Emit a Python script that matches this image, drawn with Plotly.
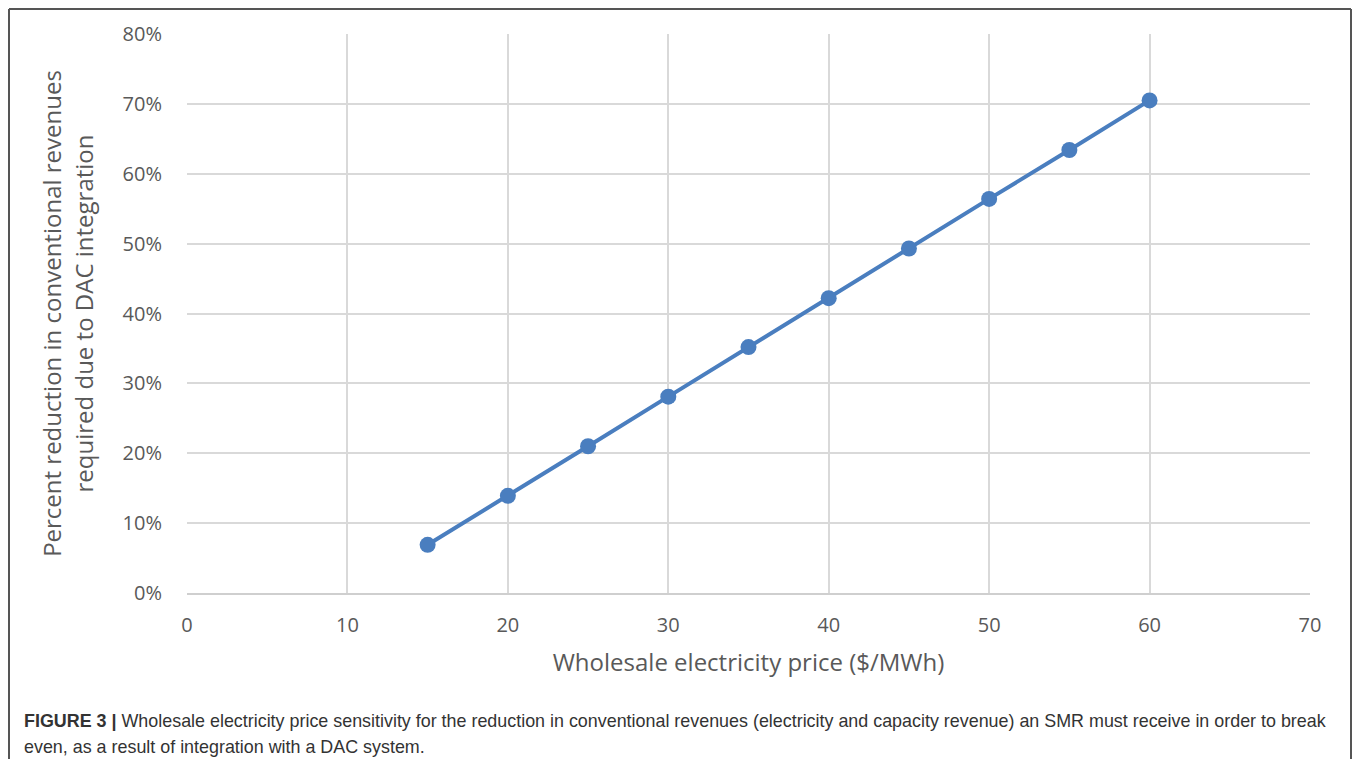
import plotly.graph_objects as go

price = [15, 20, 25, 30, 35, 40, 45, 50, 55, 60]
reduction = [0.069, 0.139, 0.210, 0.281, 0.352, 0.422, 0.493, 0.564, 0.634, 0.705]

x_ticks = [0, 10, 20, 30, 40, 50, 60, 70]
y_ticks = [0, 0.1, 0.2, 0.3, 0.4, 0.5, 0.6, 0.7, 0.8]

OFF = 8  # page body margin
W, H = 1344, 751
# plot area in page coordinates
L, R, T, B = 187 - OFF, 1310 - OFF, 34 - OFF, 593 - OFF

def px(x_page):
    return (x_page - OFF - L) / (R - L)

def py(y_page):
    return (B - (y_page - OFF)) / (B - T)

fig = go.Figure()
fig.add_trace(go.Scatter(
    x=price, y=reduction, mode="lines+markers",
    line=dict(color="#4a7ebf", width=4),
    marker=dict(color="#4a7ebf", size=16),
    showlegend=False,
))

tickfont = dict(family="Open Sans, sans-serif", size=20, color="#595959")
fig.update_xaxes(
    range=[0, 70], tickvals=x_ticks, ticktext=[str(v) for v in x_ticks],
    showgrid=True, gridcolor="#d9d9d9", gridwidth=2,
    zeroline=False, showline=True, linecolor="#cfcfcf", linewidth=2,
    ticks="outside", ticklen=13, tickcolor="rgba(0,0,0,0)",
    tickfont=tickfont,
    title=dict(text="Wholesale electricity price ($/MWh)",
               font=dict(family="Open Sans, sans-serif", size=24, color="#595959"),
               standoff=17),
)
fig.update_yaxes(
    range=[0, 0.8], tickvals=y_ticks, ticktext=[f"{int(round(v*100))}%" for v in y_ticks],
    showgrid=True, gridcolor="#d9d9d9", gridwidth=2,
    zeroline=False, showline=False,
    ticks="outside", ticklen=20, tickcolor="rgba(0,0,0,0)",
    tickfont=tickfont,
    title=dict(text="Percent reduction in conventional revenues<br>required due to DAC integration",
               font=dict(family="Open Sans, sans-serif", size=24, color="#595959"),
               standoff=22),
)

border = dict(color="#555555", width=2)
fig.add_shape(type="line", xref="paper", yref="paper",
              x0=px(9), x1=px(1351), y0=py(9), y1=py(9), line=border)
fig.add_shape(type="line", xref="paper", yref="paper",
              x0=px(9), x1=px(9), y0=py(9), y1=py(OFF + H), line=border)
fig.add_shape(type="line", xref="paper", yref="paper",
              x0=px(1351), x1=px(1351), y0=py(9), y1=py(OFF + H), line=border)

cap_font = dict(family="Liberation Sans, Arial, sans-serif", size=17.9, color="#333333")
caption1 = ("<b>FIGURE 3 |</b> Wholesale electricity price sensitivity for the reduction in conventional revenues "
            "(electricity and capacity revenue) an SMR must receive in order to break")
caption2 = "even, as a result of integration with a DAC system."
fig.add_annotation(
    text=caption1, xref="paper", yref="paper", x=px(22), y=py(721),
    xanchor="left", yanchor="middle", align="left", showarrow=False, font=cap_font,
)
fig.add_annotation(
    text=caption2, xref="paper", yref="paper", x=px(22), y=py(747),
    xanchor="left", yanchor="middle", align="left", showarrow=False, font=cap_font,
)

fig.update_layout(
    width=W, height=H,
    margin=dict(l=L, r=W - R, t=T, b=H - B),
    paper_bgcolor="white", plot_bgcolor="white",
)

fig.write_html("out.html")
